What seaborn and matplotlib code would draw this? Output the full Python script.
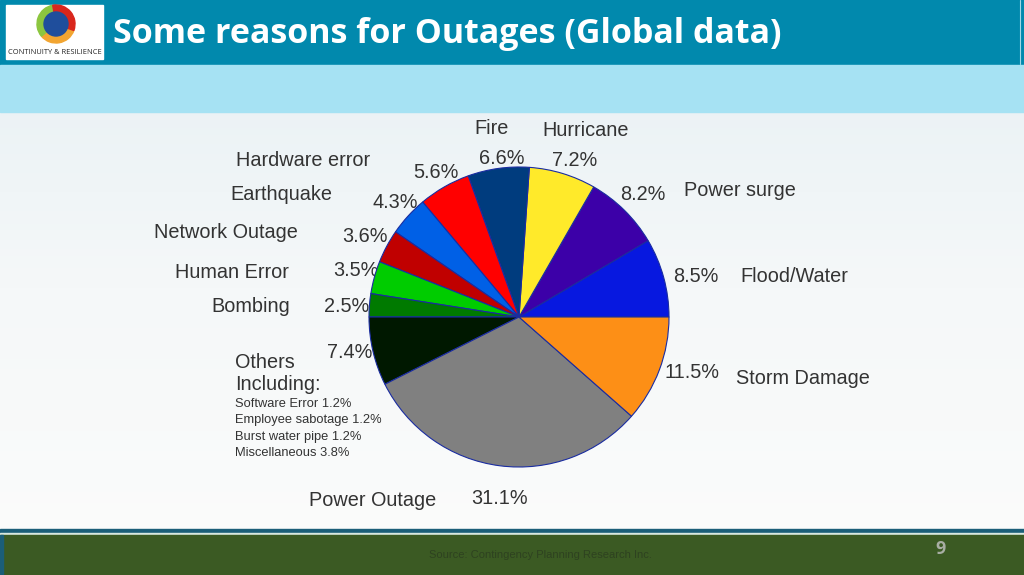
import numpy as np
import matplotlib.pyplot as plt
import matplotlib.patches as mpatches
import seaborn as sns

# ---------------------------------------------
# data
# ---------------------------------------------
causes = ["Flood/Water", "Power surge", "Hurricane", "Fire", "Hardware error",
          "Earthquake", "Network Outage", "Human Error", "Bombing",
          "Others", "Power Outage", "Storm Damage"]
shares = [8.5, 8.2, 7.2, 6.6, 5.6, 4.3, 3.6, 3.5, 2.5, 7.4, 31.1, 11.5]
slice_colors = ["#0718E0", "#3C00A8", "#FFEA2A", "#003C7E", "#FF0000",
                "#0060E6", "#C00000", "#00CC00", "#007A00", "#001800",
                "#808080", "#FD8F16"]

others_items = ["Software Error", "Employee sabotage", "Burst water pipe", "Miscellaneous"]
others_shares = [1.2, 1.2, 1.2, 3.8]

# label layout (pixel centres: name, percent)
name_pos = {
    "Flood/Water": (794, 276), "Power surge": (740, 191), "Hurricane": (586, 130),
    "Fire": (492, 129), "Hardware error": (303, 160), "Earthquake": (281, 195),
    "Network Outage": (226, 233), "Human Error": (232, 272), "Bombing": (251, 306),
    "Power Outage": (373, 501), "Storm Damage": (803, 378),
}
pct_pos = {
    "Flood/Water": (696, 276), "Power surge": (643, 194), "Hurricane": (575, 161),
    "Fire": (502, 158), "Hardware error": (436, 172), "Earthquake": (395, 202),
    "Network Outage": (365, 237), "Human Error": (356, 271), "Bombing": (347, 306),
    "Others": (350, 353), "Power Outage": (500, 499), "Storm Damage": (692, 372),
}

sns.set_theme(style="white")
plt.rcParams["font.family"] = ["Liberation Sans", "DejaVu Sans"]

W, H = 1024, 575
fig = plt.figure(figsize=(W / 100, H / 100), dpi=100)

# background axes in pixel coordinates
bg = fig.add_axes([0, 0, 1, 1])
bg.set_xlim(0, W)
bg.set_ylim(H, 0)
bg.axis("off")

grad = np.linspace(0, 1, 256).reshape(-1, 1)
bg.imshow(grad, extent=[0, W, H, 0],
          cmap=sns.blend_palette(["#E6EFF3", "#F5F8F9", "#FCFCFB"], as_cmap=True),
          aspect="auto", zorder=0)

# header
bg.add_patch(mpatches.Rectangle((0, 0), W, 65, color="#0189AD", zorder=1))
bg.add_patch(mpatches.Rectangle((0, 65), W, 47, color="#A6E2F3", zorder=1))
bg.plot([1020, 1020], [0, 64], color="#9FD8E8", lw=0.8, zorder=2)
bg.text(113, 34, "Some reasons for Outages (Global data)", color="white",
        fontsize=24.5, fontweight="bold", family=["Open Sans", "DejaVu Sans"],
        va="center", ha="left", zorder=3)

# logo
bg.add_patch(mpatches.Rectangle((6, 5), 97, 54, color="white", zorder=2))
lc = (56, 24)
for th1, th2, col in [(20, 140, "#F2A531"), (140, 260, "#8CC63F"), (260, 380, "#D9261C")]:
    bg.add_patch(mpatches.Wedge(lc, 19, th1, th2, width=7, color=col, zorder=3))
bg.add_patch(mpatches.Circle(lc, 12, color="#1F4E9C", zorder=4))
bg.text(55, 53, "CONTINUITY & RESILIENCE", fontsize=5.4, ha="center", va="center",
        color="#222222", family=["Open Sans", "DejaVu Sans"], zorder=4)

# footer
bg.add_patch(mpatches.Rectangle((0, 529), W, 4, color="#1B5E78", zorder=1))
bg.add_patch(mpatches.Rectangle((0, 533), W, 1.5, color="#D8E8E0", zorder=1))
bg.add_patch(mpatches.Rectangle((0, 534.5), W, 41, color="#3B5A23", zorder=1))
bg.add_patch(mpatches.Rectangle((0, 534.5), 3, 41, color="#1B5E78", zorder=2))
bg.text(540, 555, "Source: Contingency Planning Research Inc.", fontsize=8,
        color="#2E4220", ha="center", va="center", zorder=3)
bg.text(940, 549, "9", fontsize=13, color="#A8AEA4", ha="center", va="center",
        fontweight="bold", family=["Open Sans", "DejaVu Sans"], zorder=3)

# pie
cx, cy, r = 519, 317, 150
pie_ax = fig.add_axes([(cx - r) / W, (H - cy - r) / H, 2 * r / W, 2 * r / H])
pie_ax.pie(shares, colors=slice_colors, startangle=0, counterclock=True,
           wedgeprops=dict(edgecolor="#1A2CA0", linewidth=0.8))
pie_ax.set_xlim(-1, 1)
pie_ax.set_ylim(-1, 1)
pie_ax.set_aspect("equal")
pie_ax.axis("off")

txt = "#333333"
fs = 14.3
for name, val in zip(causes, shares):
    if name in name_pos:
        x, y = name_pos[name]
        bg.text(x, y, name, fontsize=fs, color=txt, ha="center", va="center", zorder=5)
    x, y = pct_pos[name]
    bg.text(x, y, f"{val:.1f}%", fontsize=fs, color=txt, ha="center", va="center", zorder=5)

bg.text(235, 362, "Others", fontsize=fs, color=txt, ha="left", va="center", zorder=5)
bg.text(235, 384, "Including:", fontsize=fs, color=txt, ha="left", va="center", zorder=5)
for i, (item, v) in enumerate(zip(others_items, others_shares)):
    bg.text(235, 404 + i * 16.5, f"{item} {v:.1f}%", fontsize=9.3, color=txt,
            ha="left", va="center", zorder=5)

fig.savefig("out.png", dpi=100)
